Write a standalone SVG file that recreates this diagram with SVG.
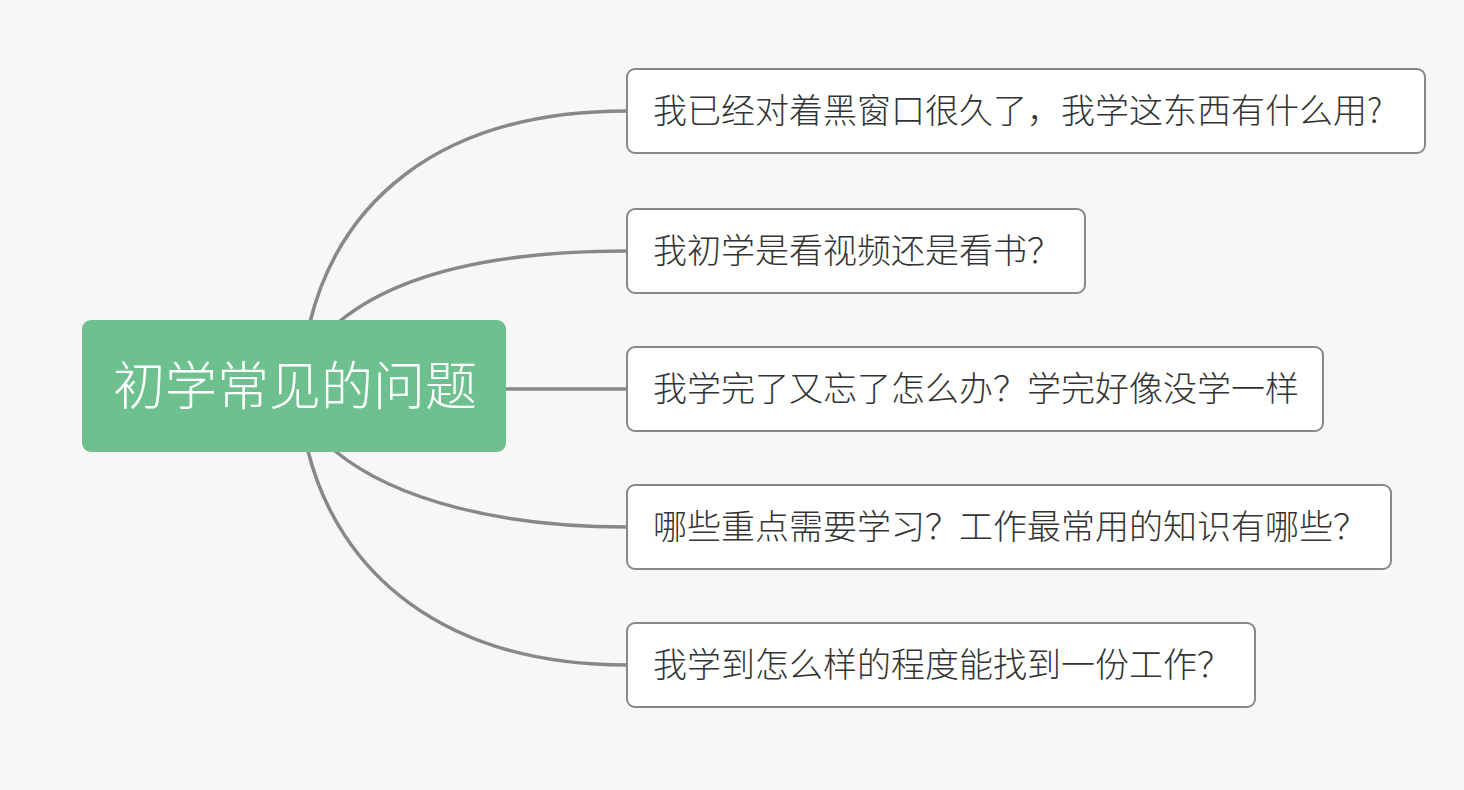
<svg xmlns="http://www.w3.org/2000/svg" width="1464" height="790" viewBox="0 0 1464 790">
<style>
.bg{fill:#f7f7f7}
.root rect{fill:#6fc08f}
.root text{fill:#ffffff;font-size:52px}
.topic rect{fill:#ffffff;stroke:#888888;stroke-width:2}
.topic text{fill:#333333;font-size:34px}
text{font-family:"Noto Sans CJK SC","Noto Sans",sans-serif;font-weight:300}
.conn path{fill:none;stroke:#888888;stroke-width:3.5;stroke-linecap:round}
</style>
<rect class="bg" x="0" y="0" width="1464" height="790"/>
<g id="connectors" class="conn">
<path d="M310,322 C338,210 430,111 627,111"/>
<path d="M340,321 C400,272 500,251 627,251"/>
<path d="M506,389 L627,389"/>
<path d="M335,451 C395,500 500,527 627,527"/>
<path d="M308,451 C338,570 440,665 627,665"/>
</g>
<g id="root" class="root">
<rect x="82" y="320" width="424" height="132" rx="9"/>
<text x="113" y="405">初学常见的问题</text>
</g>
<g id="topic1" class="topic">
<rect x="627" y="69" width="798" height="84" rx="8"/>
<text x="653" y="123">我已经对着黑窗口很久了，我学这东西有什么用?</text>
</g>
<g id="topic2" class="topic">
<rect x="627" y="209" width="458" height="84" rx="8"/>
<text x="653" y="263">我初学是看视频还是看书？</text>
</g>
<g id="topic3" class="topic">
<rect x="627" y="347" width="696" height="84" rx="8"/>
<text x="653" y="401">我学完了又忘了怎么办？学完好像没学一样</text>
</g>
<g id="topic4" class="topic">
<rect x="627" y="485" width="764" height="84" rx="8"/>
<text x="653" y="539">哪些重点需要学习？工作最常用的知识有哪些？</text>
</g>
<g id="topic5" class="topic">
<rect x="627" y="623" width="628" height="84" rx="8"/>
<text x="653" y="677">我学到怎么样的程度能找到一份工作？</text>
</g>
</svg>
